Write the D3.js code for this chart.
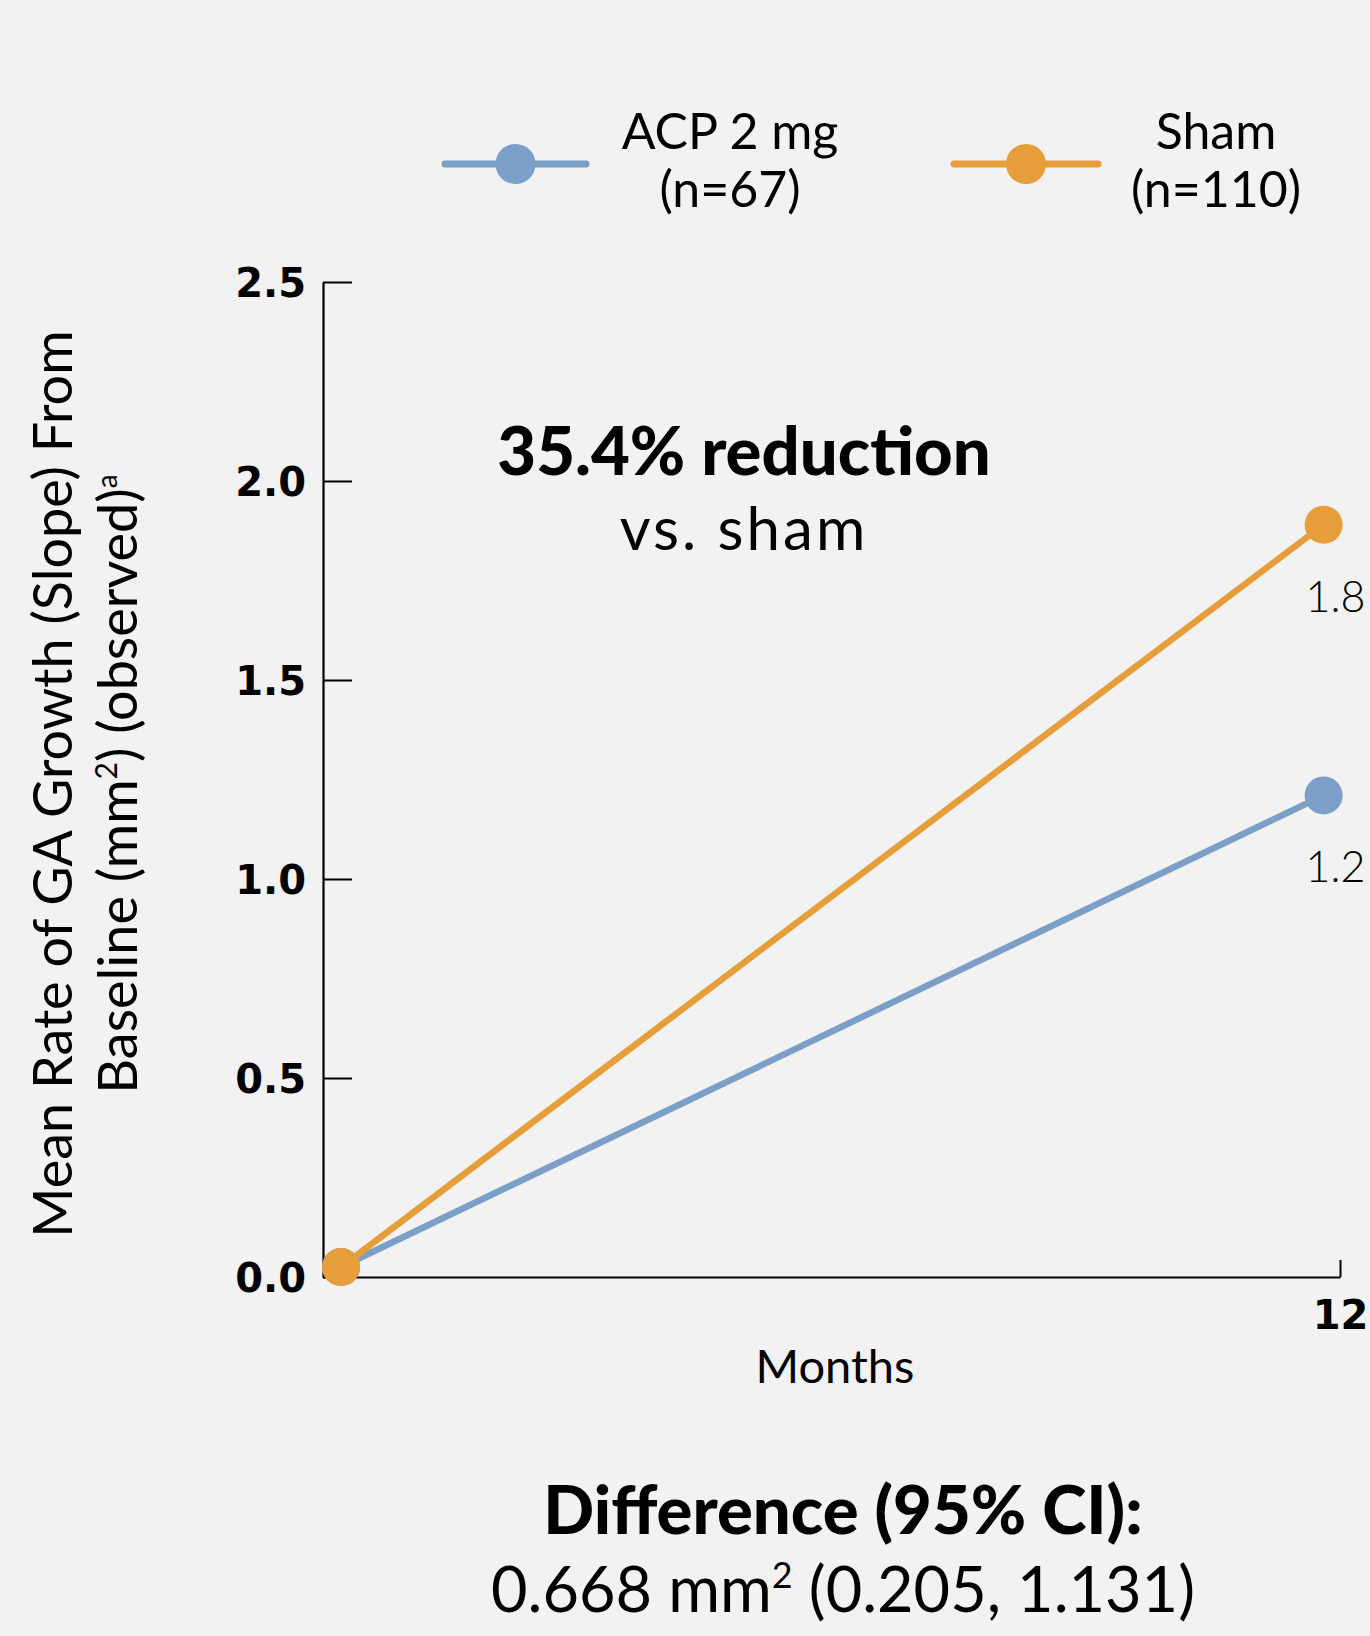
<!DOCTYPE html>
<html><head><meta charset="utf-8">
<script src="https://cdn.jsdelivr.net/npm/d3@7"></script>
<style>
html,body{margin:0;padding:0;background:#f1f2f1;}
svg{display:block;}
text{fill:#000;}
</style></head>
<body>
<script>
const months = [0, 12];
const seriesNames = ["ACP 2 mg", "Sham"];
const seriesN = ["(n=67)", "(n=110)"];
const acpValues = [0.025, 1.21];
const shamValues = [0.025, 1.89];
const endLabels = ["1.2", "1.8"];
const yTicks = [0, 0.5, 1.0, 1.5, 2.0, 2.5];
const xTickLabel = "12";
const colors = ["#7b9fc6", "#e59e3a"];

const FONT = "Lato, 'Open Sans', sans-serif";
const W = 1370, H = 1636;
const svg = d3.select("body").append("svg").attr("width", W).attr("height", H)
  .style("font-family", FONT);
svg.append("rect").attr("width", W).attr("height", H).attr("fill", "#f1f2f1");

const x = d3.scaleLinear().domain([-0.22, 12.2]).range([323, 1340]);
const y = d3.scaleLinear().domain([0, 2.5]).range([1277, 282]);

// Y axis
const yAxis = svg.append("g").attr("transform", `translate(${x.range()[0]},0)`)
  .call(d3.axisLeft(y).tickValues(yTicks).tickFormat(d3.format(".1f")).tickSize(-29).tickSizeOuter(0).tickPadding(17));
yAxis.select(".domain").attr("stroke", "#000").attr("stroke-width", 2.2);
yAxis.selectAll(".tick line").attr("stroke", "#000").attr("stroke-width", 2);
yAxis.selectAll(".tick text").style("font-family", "'DejaVu Sans'").style("font-weight", "bold")
  .style("font-size", "40px").attr("dy", "0.36em");

// X axis
const xAxis = svg.append("g").attr("transform", `translate(0,${y(0)})`)
  .call(d3.axisBottom(x).tickValues([x.domain()[1]]).tickFormat(() => xTickLabel).tickSize(-17).tickSizeOuter(0).tickPadding(24));
xAxis.select(".domain").attr("stroke", "#000").attr("stroke-width", 2.2);
xAxis.selectAll(".tick line").attr("stroke", "#000").attr("stroke-width", 2);
xAxis.selectAll(".tick text").style("font-family", "'DejaVu Sans'").style("font-weight", "bold")
  .style("font-size", "40px").attr("dy", "0.71em");

// lines
const series = [acpValues, shamValues];
const line = d3.line().x((d, i) => x(months[i])).y(d => y(d));
series.forEach((vals, si) => {
  svg.append("path").datum(vals).attr("d", line).attr("fill", "none")
    .attr("stroke", colors[si]).attr("stroke-width", 6.5);
});
series.forEach((vals, si) => {
  svg.selectAll(null).data(vals).enter().append("circle")
    .attr("cx", (d, i) => x(months[i])).attr("cy", d => y(d)).attr("r", 19)
    .attr("fill", colors[si]);
  svg.append("text").attr("x", x(months[1]) - 18).attr("y", y(vals[1]) + 87)
    .style("font-size", "43px").style("font-weight", 300).text(endLabels[si]);
});

// Legend
const legX = [[445, 586, 730], [954, 1098, 1216]];
seriesNames.forEach((name, i) => {
  const [a, b, tc] = legX[i];
  svg.append("line").attr("x1", a).attr("x2", b).attr("y1", 164).attr("y2", 164)
    .attr("stroke", colors[i]).attr("stroke-width", 7).attr("stroke-linecap", "round");
  svg.append("circle").attr("cx", (a + b) / 2).attr("cy", 164).attr("r", 20).attr("fill", colors[i]);
  svg.append("text").attr("x", tc).attr("y", 149).attr("text-anchor", "middle")
    .style("font-size", "50px").style("font-weight", 400).text(name);
  svg.append("text").attr("x", tc).attr("y", 207).attr("text-anchor", "middle")
    .style("font-size", "50px").style("font-weight", 400).text(seriesN[i]);
});

// Annotation
svg.append("text").attr("x", 744).attr("y", 475).attr("text-anchor", "middle")
  .style("font-size", "67px").style("font-weight", 900).text("35.4% reduction");
svg.append("text").attr("x", 744).attr("y", 550).attr("text-anchor", "middle")
  .style("font-size", "60px").style("font-weight", 400).style("letter-spacing", "3px").text("vs. sham");

// Axis titles
svg.append("text").attr("x", 835).attr("y", 1383).attr("text-anchor", "middle")
  .style("font-size", "47px").style("font-weight", 400).text("Months");

const yt = svg.append("g").attr("transform", "translate(0,784) rotate(-90)");
yt.append("text").attr("x", 0).attr("y", 72).attr("text-anchor", "middle")
  .style("font-size", "54px").style("font-weight", 400).text("Mean Rate of GA Growth (Slope) From");
const t2 = yt.append("text").attr("x", 0).attr("y", 137).attr("text-anchor", "middle")
  .style("font-size", "54px").style("font-weight", 400);
t2.append("tspan").text("Baseline (mm");
t2.append("tspan").style("font-size", "30px").attr("dy", -20).text("2");
t2.append("tspan").attr("dy", 20).text(") (observed)");
t2.append("tspan").style("font-size", "28px").attr("dy", -20).text("a");

// Difference
svg.append("text").attr("x", 843).attr("y", 1534).attr("text-anchor", "middle")
  .style("font-size", "67px").style("font-weight", 900).text("Difference (95% CI):");
const d2 = svg.append("text").attr("x", 843).attr("y", 1612).attr("text-anchor", "middle")
  .style("font-size", "63px").style("font-weight", 400);
d2.append("tspan").text("0.668 mm");
d2.append("tspan").style("font-size", "36px").attr("dy", -24).text("2");
d2.append("tspan").attr("dy", 24).text(" (0.205, 1.131)");
</script>
</body></html>
